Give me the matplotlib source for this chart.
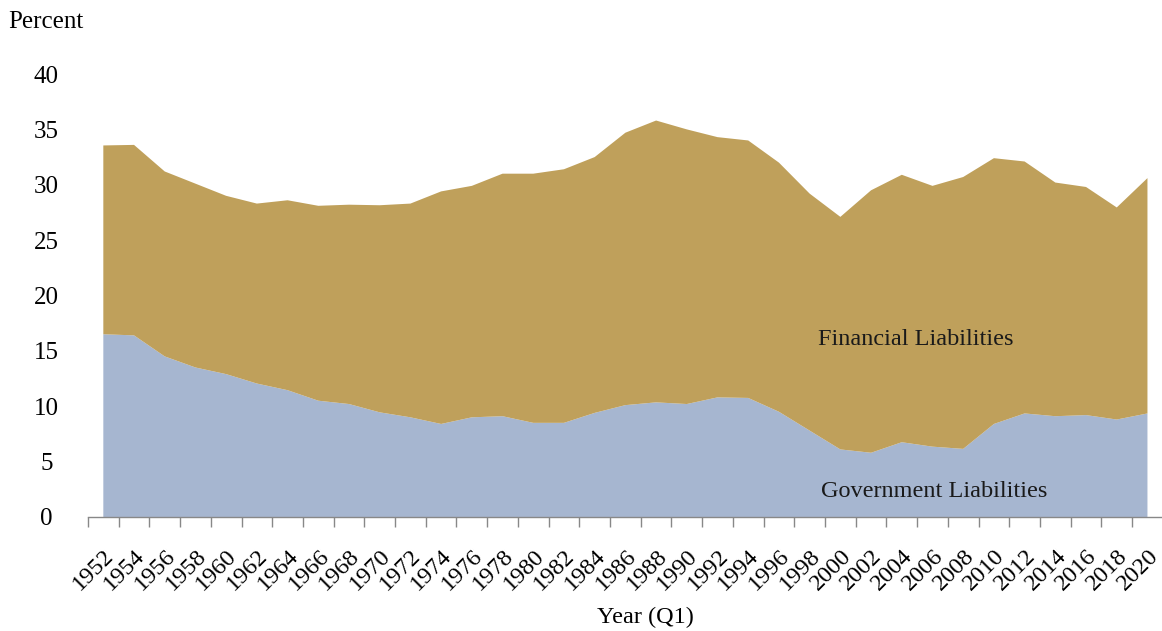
import numpy as np
import matplotlib.pyplot as plt
from matplotlib.transforms import ScaledTranslation

# Datos (porcentaje, Q1 de cada ano)
years = list(range(1952, 2021, 2))
gov_liab = [16.5, 16.4, 14.5, 13.5, 12.9, 12.05, 11.45, 10.5, 10.2, 9.45,
            9.0, 8.4, 9.0, 9.1, 8.5, 8.5, 9.4, 10.1, 10.35, 10.2,
            10.8, 10.75, 9.5, 7.8, 6.1, 5.8, 6.75, 6.35, 6.15, 8.4,
            9.35, 9.1, 9.2, 8.8, 9.35]
fin_liab = [17.05, 17.2, 16.7, 16.6, 16.1, 16.25, 17.15, 17.6, 18.0, 18.7,
            19.3, 21.0, 20.9, 21.9, 22.5, 22.9, 23.1, 24.6, 25.45, 24.8,
            23.5, 23.25, 22.5, 21.4, 21.0, 23.7, 24.15, 23.55, 24.55, 24.0,
            22.75, 21.1, 20.6, 19.15, 21.25]
y_ticks = [0, 5, 10, 15, 20, 25, 30, 35, 40]

plt.rcParams["font.family"] = ["Liberation Serif", "DejaVu Serif"]

fig = plt.figure(figsize=(11.62, 6.31), dpi=100)
ax = fig.add_axes([0.0757, 0.1807, 0.925, 0.702])

x = np.arange(len(years))
ax.stackplot(x, gov_liab, fin_liab, colors=["#a6b6d0", "#bfa05b"], linewidth=0)

ax.set_xlim(-0.5, len(years) - 0.5)
ax.set_ylim(0, 40)

# Marcas en los limites de categoria, etiquetas en el centro
ax.set_xticks(np.arange(len(years) + 1) - 0.5)
ax.set_xticklabels([])
ax.set_xticks(x, minor=True)
ax.set_xticklabels([str(y) for y in years], minor=True, rotation=45,
                   rotation_mode="anchor", ha="right", va="center", fontsize=17.5)
ax.tick_params(axis="x", which="major", length=7, color="#888888", width=1)
ax.tick_params(axis="x", which="minor", length=0, pad=26)
offset = ScaledTranslation(0.075, 0, fig.dpi_scale_trans)
for lbl in ax.get_xticklabels(minor=True):
    lbl.set_transform(lbl.get_transform() + offset)

ax.set_yticks(y_ticks)
ax.set_yticklabels([str(v) for v in y_ticks], fontsize=18, ha="center")
ax.tick_params(axis="y", length=0, pad=30)

for side in ["left", "right", "top"]:
    ax.spines[side].set_visible(False)
ax.spines["bottom"].set_color("#888888")
ax.spines["bottom"].set_linewidth(1)

ax.text(23.28, 15.5, "Financial Liabilities", fontsize=17.5, va="baseline", ha="left",
        color="#1a1a1a")
ax.text(23.36, 1.8, "Government Liabilities", fontsize=17.5, va="baseline", ha="left",
        color="#1a1a1a")

fig.text(8 / 1162, (631 - 28) / 631, "Percent", fontsize=18, va="baseline", ha="left")
fig.text(645 / 1162, (631 - 623) / 631, "Year (Q1)", fontsize=17.5, va="baseline", ha="center")

fig.savefig("out.png", dpi=100)
